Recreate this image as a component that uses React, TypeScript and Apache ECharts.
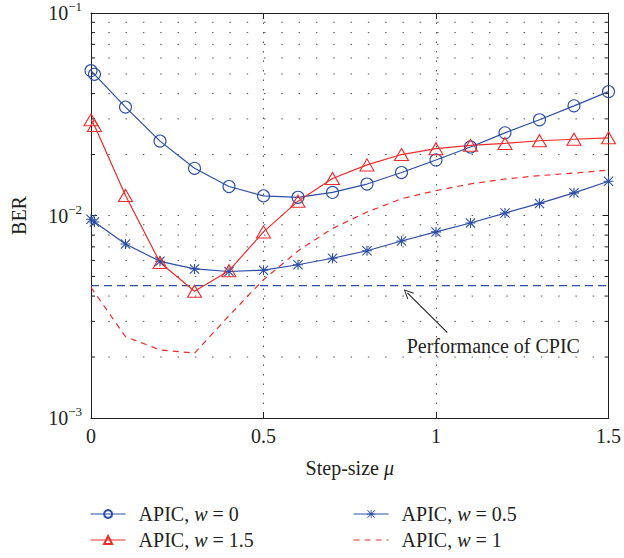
import React, { useEffect, useRef } from 'react';
import * as echarts from 'echarts';

const FONT = '"Liberation Serif", "DejaVu Serif", serif';
const BLUE = '#2c4ea6';
const RED = '#ee2c2c';
const INK = '#231f20';
const GRIDC = '#555555';
const CLEAR = 'rgba(0,0,0,0)';

// Step-size mu values
const muValues = [0, 0.01, 0.1, 0.2, 0.3, 0.4, 0.5, 0.6, 0.7, 0.8, 0.9, 1.0, 1.1, 1.2, 1.3, 1.4, 1.5];
const muValuesW1 = [0, 0.1, 0.2, 0.3, 0.4, 0.5, 0.6, 0.7, 0.8, 0.9, 1.0, 1.1, 1.2, 1.3, 1.4, 1.5];

// BER series
const berW0 = [0.0519, 0.0498, 0.0343, 0.0233, 0.0171, 0.0139, 0.0125, 0.0123, 0.0130, 0.0143, 0.0163, 0.0188, 0.0218, 0.0256, 0.0297, 0.0348, 0.0409];
const berW05 = [0.00958, 0.00929, 0.00723, 0.00594, 0.00545, 0.00529, 0.00537, 0.00571, 0.00615, 0.0067, 0.00748, 0.0083, 0.00918, 0.01028, 0.01147, 0.01294, 0.01476];
const berW15 = [0.0297, 0.0278, 0.01256, 0.00586, 0.00423, 0.00534, 0.0083, 0.01177, 0.01524, 0.01778, 0.0200, 0.02138, 0.0222, 0.0227, 0.0234, 0.0238, 0.0242];
const berW1 = [0.00442, 0.00252, 0.00217, 0.00209, 0.0032, 0.00482, 0.00668, 0.00863, 0.0104, 0.0121, 0.01328, 0.01432, 0.01514, 0.01574, 0.0162, 0.01675];
const cpicMu = [0, 1.5];
const cpicBer = [0.00451, 0.00451];

// axes
const X_MIN = 0;
const X_MAX = 1.5;
const X_STEP = 0.5;
const Y_MIN = 0.001;
const Y_MAX = 0.1;
const yMinor = [0.002, 0.003, 0.004, 0.005, 0.006, 0.007, 0.008, 0.009, 0.02, 0.03, 0.04, 0.05, 0.06, 0.07, 0.08, 0.09];

// legend names
const NAME_W0 = 'APIC, w = 0';
const NAME_W05 = 'APIC, w = 0.5';
const NAME_W15 = 'APIC, w = 1.5';
const NAME_W1 = 'APIC, w = 1';

// annotation
const annotationText = 'Performance of CPIC';
const arrowTail = [1.033, 0.00264];
const arrowHead = [0.917, 0.00415];
const textAt = [1.166, 0.00228];

const STAR = 'path://M8.9 0 L11.1 0 L11.1 20 L8.9 20 Z M0 8.9 L20 8.9 L20 11.1 L0 11.1 Z M1.5 0 L20 18.5 L18.5 20 L0 1.5 Z M18.5 0 L20 1.5 L1.5 20 L0 18.5 Z';
const CHEVRON = 'path://M0 10 L5 0 L10 10 L9.1 10.5 L5 2.2 L0.9 10.5 Z';

const zip = (xs: number[], ys: number[]) => xs.map((x, i) => [x, ys[i]]);

const dotted = [1.5, 15.8];

export default function App() {
  const ref = useRef<HTMLDivElement>(null);
  useEffect(() => {
    if (!ref.current) return;
    const chart = echarts.init(ref.current, undefined, { renderer: 'svg' });
    const legendText = {
      fontFamily: FONT,
      fontSize: 20,
      color: INK,
      lineHeight: 20,
      rich: {
        g: { width: 8, fontSize: 20, fontFamily: FONT, lineHeight: 20 },
        n: { fontSize: 20, fontFamily: FONT, color: INK, lineHeight: 20 },
        i: { fontSize: 20, fontFamily: FONT, color: INK, fontStyle: 'italic', lineHeight: 20 },
      },
    };
    const legendFormatter = (name: string) => {
      const parts = name.split(' w ');
      return `{g|}{n|${parts[0]} }{i|w}{n| ${parts[1]}}`;
    };
    const legendBase = {
      orient: 'vertical', top: 504, padding: 0,
      itemWidth: 35, itemHeight: 10, itemGap: 6,
      textStyle: legendText, formatter: legendFormatter,
      lineStyle: { width: 1.2 },
    };
    const option: any = {
      animation: false,
      backgroundColor: '#ffffff',
      grid: { left: 91, right: 13, top: 9, bottom: 140, containLabel: false },
      legend: [
        { ...legendBase, left: 90, data: [NAME_W0, NAME_W15] },
        {
          ...legendBase, left: 353,
          data: [NAME_W05, { name: NAME_W1, itemStyle: { color: CLEAR, borderWidth: 0, opacity: 0 } }],
        },
      ],
      xAxis: [
        {
          type: 'value', min: X_MIN, max: X_MAX, interval: X_STEP,
          name: 'Step-size {i|μ}', nameLocation: 'middle', nameGap: 40,
          nameTextStyle: {
            fontFamily: FONT, fontSize: 20, color: INK,
            rich: {
              i: { fontFamily: FONT, fontSize: 20, color: INK, fontStyle: 'italic' },
            },
          },
          axisLine: { show: true, onZero: false, lineStyle: { color: INK, width: 1 } },
          axisTick: { show: true, inside: true, length: 6, lineStyle: { color: INK } },
          axisLabel: {
            fontFamily: FONT, fontSize: 20, color: INK, margin: 8,
            formatter: (v: number) => String(v),
          },
          splitLine: { show: true, lineStyle: { color: GRIDC, type: [1.5, 8], width: 1 } },
        },
        {
          type: 'value', min: X_MIN, max: X_MAX, interval: X_STEP, position: 'top',
          axisLine: { show: true, onZero: false, lineStyle: { color: INK, width: 1 } },
          axisTick: { show: true, inside: true, length: 6, lineStyle: { color: INK } },
          axisLabel: { show: false },
          splitLine: { show: false },
        },
      ],
      yAxis: [
        {
          type: 'log', logBase: 10, min: Y_MIN, max: Y_MAX,
          name: 'BER', nameLocation: 'middle', nameGap: 62,
          nameTextStyle: { fontFamily: FONT, fontSize: 20, color: INK },
          axisLine: { show: true, onZero: false, lineStyle: { color: INK, width: 1 } },
          axisTick: { show: true, inside: true, length: 6, lineStyle: { color: INK } },
          axisLabel: {
            margin: 9,
            formatter: (v: number) => {
              const e = Math.round(Math.log10(v));
              return `{b|10}{s|−${-e}}`;
            },
            rich: {
              b: { fontFamily: FONT, fontSize: 20, color: INK, lineHeight: 26 },
              s: { fontFamily: FONT, fontSize: 13, color: INK, lineHeight: 26, verticalAlign: 'top' },
            },
          },
          splitLine: { show: true, lineStyle: { color: GRIDC, type: dotted, width: 1 } },
        },
        {
          type: 'log', logBase: 10, min: Y_MIN, max: Y_MAX, position: 'right',
          axisLine: { show: true, onZero: false, lineStyle: { color: INK, width: 1 } },
          axisTick: { show: true, inside: true, length: 6, lineStyle: { color: INK } },
          axisLabel: { show: false },
          splitLine: { show: false },
        },
      ],
      series: [
        {
          type: 'custom',
          silent: true,
          encode: { x: 0, y: 1 },
          data: yMinor.map((v) => [X_MIN, v]),
          z: 1,
          renderItem: (params: any, api: any) => {
            const v = api.value(1);
            const p0 = api.coord([X_MIN, v]);
            const p1 = api.coord([X_MAX, v]);
            return {
              type: 'group',
              children: [
                {
                  type: 'line',
                  shape: { x1: p0[0], y1: p0[1], x2: p1[0], y2: p1[1] },
                  style: { stroke: GRIDC, lineWidth: 1, lineDash: dotted },
                },
                {
                  type: 'line',
                  shape: { x1: p0[0], y1: p0[1], x2: p0[0] + 4, y2: p0[1] },
                  style: { stroke: INK, lineWidth: 1 },
                },
                {
                  type: 'line',
                  shape: { x1: p1[0] - 4, y1: p1[1], x2: p1[0], y2: p1[1] },
                  style: { stroke: INK, lineWidth: 1 },
                },
              ],
            };
          },
        },
        {
          name: 'CPIC',
          type: 'line',
          data: zip(cpicMu, cpicBer),
          symbol: 'none',
          lineStyle: { color: BLUE, width: 1.3, type: [8, 5] },
          z: 3,
          markLine: {
            silent: true,
            symbol: ['none', CHEVRON],
            symbolSize: [9, 10],
            lineStyle: { color: INK, width: 1.1, type: 'solid' },
            label: { show: false },
            data: [[{ coord: arrowTail }, { coord: arrowHead }]],
          },
          markPoint: {
            silent: true,
            symbol: 'circle',
            symbolSize: 1,
            itemStyle: { color: CLEAR },
            label: {
              show: true, position: 'inside', formatter: annotationText,
              fontFamily: FONT, fontSize: 20, color: INK,
            },
            data: [{ coord: textAt }],
          },
        },
        {
          name: NAME_W0,
          type: 'line',
          data: zip(muValues, berW0),
          symbol: 'circle',
          symbolSize: 12,
          lineStyle: { color: BLUE, width: 1.2 },
          itemStyle: { color: CLEAR, borderColor: BLUE, borderWidth: 1.1 },
          z: 4,
        },
        {
          name: NAME_W05,
          type: 'line',
          data: zip(muValues, berW05),
          symbol: STAR,
          symbolSize: 10,
          lineStyle: { color: BLUE, width: 1.2 },
          itemStyle: { color: BLUE, borderWidth: 0 },
          z: 4,
        },
        {
          name: NAME_W15,
          type: 'line',
          data: zip(muValues, berW15),
          symbol: 'triangle',
          symbolSize: [14, 12],
          lineStyle: { color: RED, width: 1.2 },
          itemStyle: { color: CLEAR, borderColor: RED, borderWidth: 1.1 },
          z: 4,
        },
        {
          name: NAME_W1,
          type: 'line',
          data: zip(muValuesW1, berW1),
          symbol: 'none',
          lineStyle: { color: RED, width: 1.2, type: [6, 5] },
          itemStyle: { color: RED },
          z: 4,
        },
      ],
    };
    chart.setOption(option);
    return () => chart.dispose();
  }, []);
  return (
    <div
      ref={ref}
      style={{ position: 'fixed', left: 0, top: 0, width: 624, height: 558, background: '#fff' }}
    />
  );
}
